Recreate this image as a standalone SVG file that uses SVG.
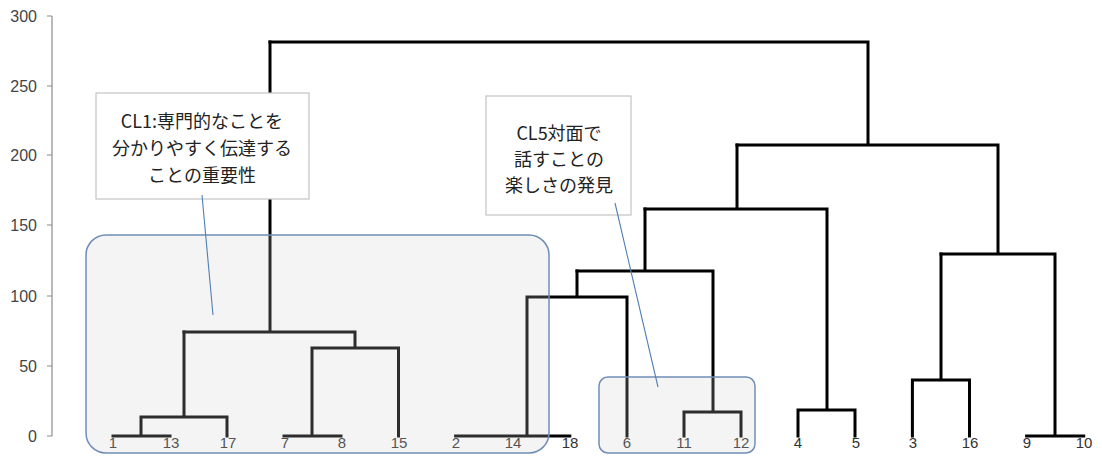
<svg xmlns="http://www.w3.org/2000/svg" width="1102" height="457" viewBox="0 0 1102 457">
<style>
.ax{stroke:#8c8c8c;stroke-width:1.2;fill:none}
.axl{font-family:"Liberation Sans",Arial,sans-serif;font-size:16px;fill:#444;text-anchor:end}
.lf{font-family:"Liberation Sans",Arial,sans-serif;font-size:15px;fill:#333;text-anchor:middle}
.dg{stroke:#000;stroke-width:3;fill:none;stroke-linejoin:miter;stroke-linecap:square}
.cl{fill:#cfcfcf;fill-opacity:0.22;stroke:#6f8db5;stroke-width:1.5}
.co{fill:#fff;stroke:#c4c4c4;stroke-width:1.2}
.pt{stroke:#4f7fb5;stroke-width:1.1;fill:none}
.ct{font-family:"Noto Sans CJK JP","Noto Sans",sans-serif;font-size:18px;fill:#222;text-anchor:middle}
</style>
<rect width="1102" height="457" fill="#fff"/>
<g id="axis">
<path class="ax" d="M52 16V436M47 16H52M47 86H52M47 155H52M47 225H52M47 296H52M47 366H52M47 436H52"/>
<text class="axl" x="37" y="22">300</text>
<text class="axl" x="37" y="92">250</text>
<text class="axl" x="37" y="161">200</text>
<text class="axl" x="37" y="231">150</text>
<text class="axl" x="37" y="302">100</text>
<text class="axl" x="37" y="372">50</text>
<text class="axl" x="37" y="442">0</text>
</g>
<g id="connectors">
<path class="dg" d="M113 436H170M141 436V417M227 436V417M141 417H227M184 417V332"/>
<path class="dg" d="M284 436H341M312 436V348M398.5 436V348M312 348H398.5M355 348V332M184 332H355M270 332V42"/>
<path class="dg" d="M455.6 436H569.8M527 436V297M627 436V297M527 297H627M577 297V271"/>
<path class="dg" d="M684 436V412M741 436V412M684 412H741M713 412V271M577 271H713M645 271V209"/>
<path class="dg" d="M798 436V410M855 436V410M798 410H855M827 410V209M645 209H827M737 209V145"/>
<path class="dg" d="M912.4 436V380M969.5 436V380M912.4 380H969.5M941 380V254"/>
<path class="dg" d="M1026.6 436H1083.7M1055 436V254M941 254H1055M998 254V145M737 145H998M868 145V42M270 42H868"/>
</g>
<g id="leaves">
<text class="lf" x="113" y="448">1</text>
<text class="lf" x="171" y="448">13</text>
<text class="lf" x="228" y="448">17</text>
<text class="lf" x="285" y="448">7</text>
<text class="lf" x="342" y="448">8</text>
<text class="lf" x="399" y="448">15</text>
<text class="lf" x="456" y="448">2</text>
<text class="lf" x="513" y="448">14</text>
<text class="lf" x="570" y="448">18</text>
<text class="lf" x="627" y="448">6</text>
<text class="lf" x="684" y="448">11</text>
<text class="lf" x="741" y="448">12</text>
<text class="lf" x="798" y="448">4</text>
<text class="lf" x="856" y="448">5</text>
<text class="lf" x="913" y="448">3</text>
<text class="lf" x="970" y="448">16</text>
<text class="lf" x="1027" y="448">9</text>
<text class="lf" x="1084" y="448">10</text>
</g>
<g id="cluster-cl1-area">
<rect class="cl" x="86" y="235" width="463" height="218" rx="20"/>
</g>
<g id="cluster-cl5-area">
<rect class="cl" x="599" y="377" width="156" height="76" rx="9"/>
</g>
<g id="callout-cl1">
<rect class="co" x="96" y="93" width="213" height="106"/>
<path class="pt" d="M202 195L213 315"/>
<text class="ct" x="202" y="128">CL1:専門的なことを</text>
<text class="ct" x="202" y="155">分かりやすく伝達する</text>
<text class="ct" x="202" y="182">ことの重要性</text>
</g>
<g id="callout-cl5">
<rect class="co" x="486" y="96" width="145" height="119"/>
<path class="pt" d="M615 203L658 387"/>
<text class="ct" x="559" y="140">CL5対面で</text>
<text class="ct" x="559" y="166">話すことの</text>
<text class="ct" x="559" y="192">楽しさの発見</text>
</g>
</svg>
